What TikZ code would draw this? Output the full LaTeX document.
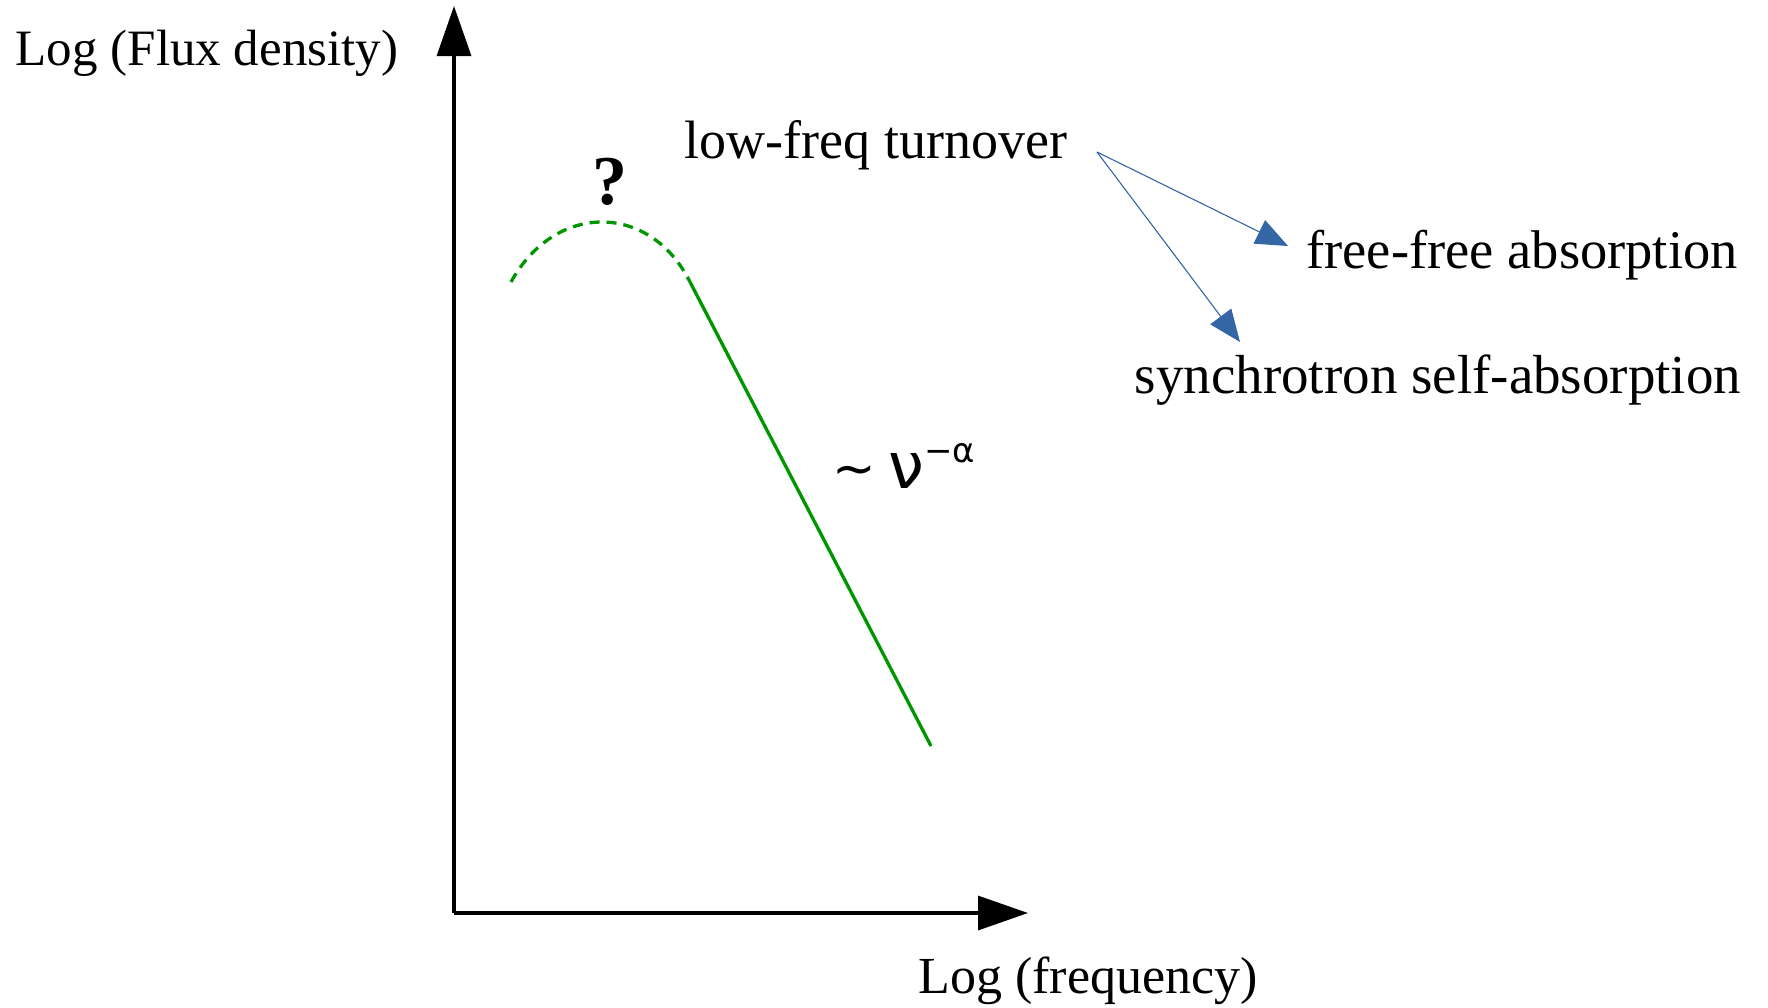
\documentclass[tikz,border=0pt]{standalone}
\usepackage{fontspec}
\setmainfont{Liberation Serif}
\newfontfamily\nufont{DejaVu Sans}
\usetikzlibrary{arrows.meta}
\definecolor{curvegreen}{RGB}{0,150,0}
\definecolor{arrowblue}{RGB}{52,101,164}
\tikzset{
  axisline/.style={line width=3.3pt,-{Triangle[length=50pt,width=34pt]}},
  bluearrow/.style={arrowblue,line width=1.1pt,-{Triangle[length=32pt,width=26pt]}},
  curve/.style={curvegreen,line width=3.3pt},
  lbl/.style={inner sep=0pt,anchor=center},
}
\begin{document}
\begin{tikzpicture}[x=1pt,y=-1pt]
\useasboundingbox (0,0) rectangle (1768,1007);
% axes
\coordinate (origin) at (454,913);
\coordinate (ytip) at (454,6);
\coordinate (xtip) at (1028,913);
\draw[axisline] (origin) -- (ytip);
\draw[axisline] (origin) -- (xtip);
% labels
\node[lbl] (ylab) at (207,53) {\fontsize{51}{60}\selectfont Log (Flux density)};
\node[lbl] (xlab) at (1088,981) {\fontsize{52}{60}\selectfont Log (frequency)};
\node[lbl] (turn) at (876,145) {\fontsize{54}{60}\selectfont low-freq turnover};
\node[lbl] (ff) at (1522,255) {\fontsize{54.5}{60}\selectfont free-free absorption};
\node[lbl] (sync) at (1438,380) {\fontsize{55}{60}\selectfont synchrotron self-absorption};
\node[lbl] (q) at (610,182) {\fontsize{70}{70}\selectfont\bfseries ?};
\node[lbl] (nu) at (904,466) {\nufont{\fontsize{52}{50}\selectfont\raisebox{2pt}{\textasciitilde}}\hspace{12pt}{\fontsize{64}{60}\selectfont ν}{\fontsize{34}{40}\selectfont\raisebox{26pt}{−α}}};
% curve
\coordinate (c0) at (511,282);
\coordinate (c1) at (690,282);
\coordinate (c2) at (931,746);
\draw[curve,dash pattern=on 10pt off 7pt] (c0) .. controls (555,202) and (650,202) .. (c1);
\draw[curve] (c1) -- (c2);
% blue arrows
\coordinate (src) at (1097,152);
\coordinate (fftip) at (1288,246);
\coordinate (sstip) at (1240,342);
\draw[bluearrow] (src) -- (fftip);
\draw[bluearrow] (src) -- (sstip);
\end{tikzpicture}
\end{document}
